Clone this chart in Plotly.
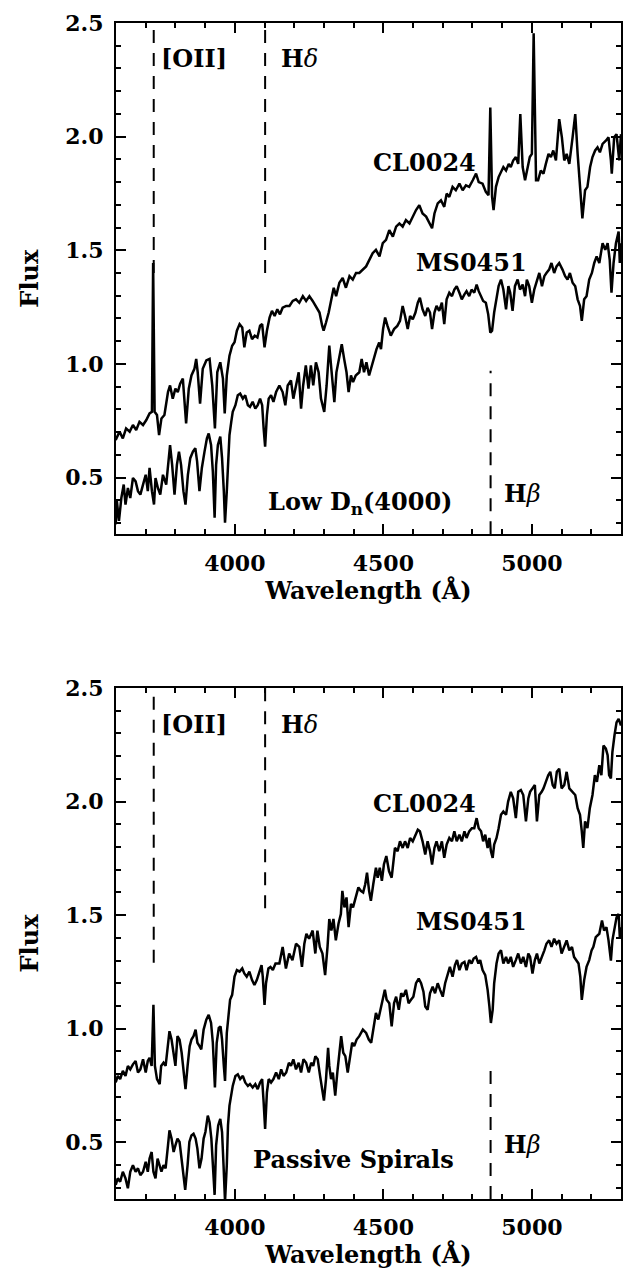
import plotly.graph_objects as go

# ---------------- data ----------------
WL_P1_CL = [
    3599, 3612, 3623, 3634, 3646, 3657, 3668, 3679, 3691, 3702,
    3713, 3721, 3725, 3730, 3738, 3745, 3753, 3763, 3775, 3782,
    3791, 3800, 3808, 3816, 3825, 3836, 3845, 3854, 3864, 3870,
    3875, 3883, 3892, 3904, 3915, 3924, 3933, 3941, 3951, 3960,
    3966, 3973, 3982, 3991, 3999, 4007, 4016, 4025, 4032, 4040,
    4049, 4058, 4067, 4076, 4085, 4092, 4100, 4108, 4117, 4125,
    4134, 4143, 4152, 4161, 4173, 4184, 4195, 4206, 4217, 4229,
    4240, 4251, 4262, 4273, 4285, 4294, 4299, 4307, 4316, 4325,
    4333, 4341, 4352, 4363, 4374, 4386, 4397, 4408, 4419, 4442,
    4464, 4475, 4487, 4498, 4509, 4520, 4532, 4543, 4554, 4565,
    4576, 4588, 4599, 4610, 4621, 4632, 4644, 4655, 4664, 4672,
    4683, 4694, 4705, 4713, 4722, 4733, 4744, 4756, 4767, 4778,
    4789, 4801, 4812, 4821, 4834, 4845, 4854, 4860, 4866, 4871,
    4879, 4888, 4896, 4904, 4913, 4922, 4929, 4937, 4946, 4954,
    4961, 4969, 4977, 4986, 4993, 5000, 5006, 5014, 5021, 5030,
    5039, 5047, 5056, 5064, 5072, 5081, 5092, 5101, 5109, 5117,
    5126, 5137, 5146, 5154, 5159, 5165, 5170, 5179, 5187, 5196,
    5204, 5213, 5221, 5229, 5238, 5249, 5258, 5266, 5269, 5277,
    5285, 5294, 5300]
FX_P1_CL = [
    0.665, 0.702, 0.672, 0.716, 0.702, 0.731, 0.709, 0.745, 0.731, 0.753,
    0.782, 0.789, 1.444, 0.789, 0.775, 0.687, 0.760, 0.775, 0.876, 0.905,
    0.847, 0.891, 0.876, 0.913, 0.935, 0.738, 0.891, 0.949, 0.978, 1.022,
    0.964, 0.825, 0.978, 1.015, 1.022, 0.905, 0.716, 0.964, 1.007, 0.935,
    0.782, 0.949, 1.036, 1.080, 1.095, 1.146, 1.175, 1.160, 1.073, 1.138,
    1.146, 1.109, 1.124, 1.116, 1.168, 1.175, 1.073, 1.146, 1.204, 1.233,
    1.211, 1.240, 1.218, 1.247, 1.255, 1.255, 1.277, 1.284, 1.269, 1.298,
    1.277, 1.298, 1.277, 1.255, 1.226, 1.168, 1.146, 1.182, 1.226, 1.284,
    1.335, 1.298, 1.357, 1.378, 1.335, 1.386, 1.371, 1.400, 1.400, 1.429,
    1.487, 1.502, 1.473, 1.531, 1.546, 1.589, 1.560, 1.604, 1.618, 1.604,
    1.633, 1.618, 1.648, 1.677, 1.698, 1.662, 1.648, 1.618, 1.597, 1.662,
    1.706, 1.720, 1.691, 1.749, 1.735, 1.779, 1.764, 1.793, 1.764, 1.786,
    1.779, 1.808, 1.837, 1.800, 1.793, 1.757, 1.742, 2.128, 1.735, 1.677,
    1.779, 1.822, 1.844, 1.866, 1.851, 1.880, 1.866, 1.895, 1.910, 1.880,
    2.099, 1.866, 1.808, 1.866, 1.910, 1.924, 2.455, 1.808, 1.808, 1.851,
    1.837, 1.880, 1.924, 1.910, 1.939, 1.895, 2.077, 1.997, 1.895, 1.924,
    1.880, 1.997, 2.099, 1.924, 1.837, 1.735, 1.640, 1.764, 1.779, 1.866,
    1.910, 1.939, 1.953, 1.931, 1.968, 1.982, 1.997, 1.895, 1.837, 1.997,
    2.011, 1.895, 2.011]

WL_P1_MS = [
    3599, 3603, 3610, 3618, 3626, 3632, 3640, 3648, 3657, 3666,
    3674, 3682, 3691, 3700, 3707, 3713, 3721, 3728, 3733, 3741,
    3749, 3758, 3769, 3777, 3782, 3789, 3797, 3805, 3812, 3819,
    3827, 3834, 3842, 3850, 3859, 3867, 3873, 3881, 3889, 3898,
    3906, 3912, 3920, 3926, 3932, 3937, 3943, 3951, 3957, 3963,
    3967, 3973, 3977, 3982, 3988, 3993, 4002, 4010, 4018, 4027,
    4035, 4044, 4051, 4060, 4069, 4077, 4085, 4092, 4097, 4102,
    4108, 4114, 4122, 4130, 4139, 4150, 4161, 4170, 4178, 4189,
    4197, 4206, 4215, 4223, 4230, 4239, 4248, 4256, 4264, 4273,
    4282, 4290, 4301, 4309, 4318, 4326, 4335, 4342, 4351, 4360,
    4368, 4376, 4383, 4391, 4398, 4407, 4419, 4427, 4435, 4443,
    4452, 4461, 4469, 4477, 4486, 4492, 4499, 4506, 4514, 4525,
    4536, 4547, 4556, 4565, 4573, 4582, 4590,
    4599, 4608, 4616, 4623, 4632, 4641, 4649, 4657, 4664, 4672,
    4679, 4688, 4697, 4705, 4713, 4722, 4731, 4739, 4747, 4756,
    4764, 4773, 4780, 4789, 4797, 4806, 4814, 4821, 4829, 4836,
    4845, 4853, 4860, 4866, 4873, 4881, 4888, 4896, 4904, 4913,
    4921, 4927, 4935, 4943, 4952, 4960, 4969, 4977, 4983, 4991,
    5000, 5008, 5016, 5025, 5034, 5042, 5049, 5058, 5066, 5075,
    5083, 5092, 5103, 5112, 5120, 5128, 5137, 5146, 5154, 5162,
    5168, 5176, 5184, 5193, 5202, 5210, 5218, 5227, 5238, 5247,
    5255, 5262, 5268, 5275, 5283, 5288, 5292, 5296, 5300]
FX_P1_MS = [
    0.294, 0.396, 0.309, 0.410, 0.469, 0.381, 0.454, 0.410, 0.498, 0.483,
    0.440, 0.425, 0.469, 0.512, 0.440, 0.542, 0.440, 0.381, 0.498, 0.454,
    0.425, 0.512, 0.469, 0.571, 0.643, 0.556, 0.425, 0.556, 0.614, 0.556,
    0.440, 0.381, 0.512, 0.585, 0.614, 0.629, 0.571, 0.440, 0.542, 0.614,
    0.672, 0.694, 0.643, 0.527, 0.323, 0.556, 0.643, 0.680, 0.585, 0.440,
    0.301, 0.440, 0.585, 0.687, 0.745, 0.789, 0.818, 0.862, 0.869, 0.847,
    0.862, 0.818, 0.811, 0.833, 0.803, 0.818, 0.847, 0.818, 0.716, 0.636,
    0.774, 0.847, 0.862, 0.833, 0.876, 0.905, 0.876, 0.818, 0.905, 0.927,
    0.847, 0.905, 0.963, 0.803, 0.905, 0.993, 0.891, 0.993, 0.905, 1.007,
    0.963, 0.847, 0.789, 0.905, 1.080, 0.963, 0.832, 0.963, 1.022, 1.087,
    1.022, 0.963, 0.876, 0.949, 0.920, 0.949, 0.963, 1.022, 0.963, 1.007,
    0.949, 0.993, 1.036, 1.065, 1.094, 1.065, 1.153, 1.204, 1.167, 1.124,
    1.153, 1.167, 1.189, 1.255, 1.211, 1.153, 1.211,
    1.196, 1.226, 1.269, 1.291, 1.240, 1.211, 1.247, 1.226, 1.153, 1.226,
    1.255, 1.233, 1.269, 1.175, 1.284, 1.313, 1.298, 1.327, 1.342, 1.313,
    1.284, 1.306, 1.320, 1.298, 1.327, 1.313, 1.349, 1.320, 1.298, 1.277,
    1.269, 1.218, 1.138, 1.146, 1.226, 1.284, 1.342, 1.371, 1.327, 1.240,
    1.342, 1.313, 1.233, 1.342, 1.371, 1.327, 1.349, 1.298, 1.371, 1.342,
    1.269, 1.327, 1.357, 1.400, 1.342, 1.386, 1.400, 1.415, 1.444, 1.400,
    1.429, 1.444, 1.415, 1.386, 1.371, 1.400, 1.357, 1.342, 1.284, 1.255,
    1.189, 1.284, 1.298, 1.371, 1.400, 1.444, 1.473, 1.444, 1.531, 1.502,
    1.531, 1.458, 1.313, 1.444, 1.531, 1.560, 1.582, 1.444, 1.531]

WL_P2_CL = [
    3599, 3606, 3614, 3623, 3632, 3640, 3648, 3657, 3666, 3674,
    3682, 3691, 3700, 3707, 3713, 3720, 3726, 3731, 3738, 3747,
    3752, 3760, 3767, 3775, 3780, 3787, 3794, 3800, 3807, 3814,
    3821, 3827, 3834, 3841, 3848, 3854, 3861, 3868, 3874, 3881,
    3887, 3895, 3904, 3912, 3920, 3926, 3933, 3939, 3946, 3952,
    3957, 3963, 3967, 3973, 3979, 3984, 3991, 3999, 4007, 4016,
    4025, 4032, 4040, 4049, 4058, 4066, 4074, 4083, 4090, 4094,
    4100, 4105, 4113, 4120, 4128, 4137, 4150, 4161, 4172, 4183,
    4194, 4206, 4217, 4226, 4234, 4241, 4250, 4262, 4271, 4278,
    4286, 4295, 4304, 4312, 4318, 4325, 4332, 4340, 4349, 4357,
    4362, 4369, 4376, 4383, 4391, 4398, 4407, 4416, 4424, 4432,
    4439, 4445, 4452, 4458, 4466, 4475, 4481, 4488, 4495, 4502,
    4510, 4519, 4528, 4539, 4548, 4556, 4565,
    4573, 4582, 4590, 4599, 4608, 4616, 4623, 4632, 4641, 4649,
    4657, 4664, 4672, 4679, 4688, 4697, 4705, 4713, 4722, 4731,
    4739, 4747, 4756, 4764, 4773, 4780, 4789, 4798, 4806, 4814,
    4821, 4829, 4836, 4843, 4851, 4857, 4862, 4868, 4873, 4881,
    4888, 4896, 4904, 4913, 4920, 4929, 4937, 4946, 4954, 4963,
    4971, 4980, 4988, 4994, 5002, 5010, 5017, 5025, 5033, 5039,
    5047, 5055, 5062, 5070, 5077, 5084, 5092, 5100, 5109, 5117,
    5126, 5137, 5146, 5154, 5162, 5168, 5173, 5179, 5187, 5195,
    5204, 5212, 5219, 5227, 5234, 5241, 5249, 5255, 5260, 5266,
    5271, 5278, 5285, 5292, 5300]
FX_P2_CL = [
    0.763, 0.792, 0.778, 0.814, 0.792, 0.836, 0.821, 0.843, 0.858, 0.807,
    0.821, 0.865, 0.807, 0.858, 0.872, 0.836, 1.105, 0.836, 0.778, 0.756,
    0.836, 0.850, 0.836, 0.952, 0.989, 0.952, 0.894, 0.836, 0.967, 0.952,
    0.894, 0.807, 0.734, 0.836, 0.923, 0.952, 0.967, 0.996, 0.938, 0.923,
    0.909, 0.996, 1.040, 1.061, 1.025, 0.938, 0.741, 0.938, 1.003, 1.010,
    0.952, 0.836, 0.770, 0.981, 1.069, 1.127, 1.149, 1.229, 1.258, 1.251,
    1.265, 1.243, 1.229, 1.251, 1.214, 1.192, 1.214, 1.258, 1.280, 1.229,
    1.105, 1.200, 1.265, 1.272, 1.258, 1.287, 1.287, 1.360, 1.265, 1.331,
    1.301, 1.374, 1.360, 1.272, 1.374, 1.418, 1.396, 1.432, 1.331, 1.432,
    1.360, 1.331, 1.236, 1.360, 1.483, 1.432, 1.483, 1.389, 1.462, 1.505,
    1.607, 1.534, 1.578, 1.447, 1.549, 1.534, 1.578, 1.622, 1.607, 1.600,
    1.636, 1.687, 1.607, 1.563, 1.636, 1.709, 1.665, 1.709, 1.651, 1.724,
    1.760, 1.694, 1.665, 1.796, 1.782, 1.825, 1.796,
    1.825, 1.796, 1.840, 1.825, 1.854, 1.876, 1.869, 1.825, 1.767, 1.825,
    1.782, 1.723, 1.796, 1.825, 1.782, 1.825, 1.752, 1.811, 1.840, 1.825,
    1.869, 1.825, 1.854, 1.825, 1.869, 1.840, 1.869, 1.883, 1.883, 1.927,
    1.883, 1.869, 1.825, 1.854, 1.796, 1.840, 1.782, 1.752, 1.811, 1.840,
    1.883, 1.942, 1.956, 1.942, 2.000, 2.043, 2.014, 1.927, 2.043, 2.051,
    2.029, 1.913, 2.014, 2.043, 2.058, 2.073, 1.913, 2.029, 2.043, 2.058,
    2.087, 2.116, 2.131, 2.073, 2.058, 2.131, 2.145, 2.058, 2.073, 2.131,
    2.058, 2.043, 2.029, 1.971, 1.942, 1.869, 1.796, 1.913, 1.883, 1.971,
    2.029, 2.116, 2.087, 2.160, 2.116, 2.247, 2.233, 2.204, 2.116, 2.102,
    2.218, 2.291, 2.349, 2.364, 2.335]

WL_P2_MS = [
    3599, 3606, 3614, 3623, 3632, 3640, 3648, 3657, 3666, 3674,
    3682, 3691, 3700, 3707, 3713, 3720, 3726, 3733, 3740, 3747,
    3753, 3760, 3767, 3775, 3780, 3787, 3794, 3800, 3807, 3814,
    3821, 3827, 3833, 3841, 3847, 3854, 3861, 3868, 3874, 3881,
    3888, 3895, 3901, 3909, 3915, 3921, 3926, 3932, 3937, 3944,
    3951, 3957, 3962, 3967, 3973, 3977, 3982, 3988, 3993, 4002,
    4010, 4018, 4027, 4035, 4044, 4051, 4060, 4069, 4077, 4085,
    4092, 4097, 4102, 4108, 4114, 4122, 4130, 4139, 4148, 4156,
    4164, 4173, 4182, 4189, 4197, 4206, 4215, 4223, 4231, 4240,
    4249, 4257, 4264, 4271, 4279, 4287, 4294, 4300, 4307, 4314,
    4318, 4324, 4330, 4338, 4345, 4352, 4358, 4365, 4372, 4380,
    4386, 4395, 4402, 4410, 4419, 4431, 4442, 4451, 4459, 4467,
    4475, 4483, 4490, 4498, 4505, 4511, 4520, 4528, 4536, 4543,
    4552, 4560, 4567, 4576, 4585, 4593, 4601, 4610, 4619, 4627,
    4635, 4641, 4649, 4657, 4666, 4674, 4683, 4691, 4700, 4708,
    4716, 4724, 4733, 4741, 4748, 4756, 4764, 4773, 4780, 4789,
    4797, 4804, 4812, 4820, 4826, 4834, 4843, 4851, 4857, 4862,
    4868, 4873, 4881, 4888, 4896, 4904, 4913, 4920, 4929, 4937,
    4946, 4954, 4963, 4971, 4980, 4988, 4994, 5002, 5010, 5017,
    5025, 5034, 5042, 5049, 5058, 5066, 5075, 5083, 5092, 5100,
    5109, 5117, 5126, 5135, 5142, 5150, 5157, 5163, 5168, 5176,
    5184, 5193, 5201, 5207, 5215, 5227, 5236, 5243, 5251, 5258,
    5266, 5271, 5278, 5285, 5292, 5296, 5300]
FX_P2_MS = [
    0.312, 0.341, 0.326, 0.370, 0.341, 0.297, 0.370, 0.399, 0.370, 0.385,
    0.355, 0.370, 0.414, 0.370, 0.428, 0.457, 0.370, 0.341, 0.428, 0.399,
    0.370, 0.399, 0.385, 0.486, 0.552, 0.516, 0.457, 0.486, 0.516, 0.501,
    0.428, 0.341, 0.290, 0.399, 0.501, 0.530, 0.537, 0.516, 0.472, 0.385,
    0.428, 0.516, 0.545, 0.617, 0.588, 0.516, 0.399, 0.268, 0.486, 0.574,
    0.603, 0.545, 0.399, 0.239, 0.399, 0.574, 0.661, 0.719, 0.748, 0.792,
    0.799, 0.778, 0.792, 0.763, 0.748, 0.756, 0.741, 0.756, 0.734, 0.763,
    0.778, 0.676, 0.559, 0.719, 0.778, 0.763, 0.778, 0.807, 0.778, 0.821,
    0.792, 0.807, 0.850, 0.836, 0.865, 0.821, 0.850, 0.807, 0.865, 0.850,
    0.807, 0.850, 0.836, 0.879, 0.865, 0.792, 0.719, 0.683, 0.778, 0.916,
    0.836, 0.778, 0.807, 0.705, 0.807, 0.909, 0.967, 0.894, 0.879, 0.807,
    0.865, 0.938, 0.923, 0.952, 0.967, 0.996, 0.981, 0.952, 0.938, 0.996,
    1.069, 1.040, 1.083, 1.127, 1.171, 1.127, 1.112, 1.010, 1.112, 1.141,
    1.083, 1.156, 1.141, 1.171, 1.112, 1.127, 1.141, 1.200, 1.221, 1.200,
    1.163, 1.098, 1.083, 1.156, 1.185, 1.156, 1.200, 1.171, 1.141, 1.200,
    1.243, 1.272, 1.229, 1.280, 1.302, 1.258, 1.287, 1.294, 1.258, 1.302,
    1.287, 1.309, 1.316, 1.287, 1.302, 1.258, 1.236, 1.171, 1.098, 1.025,
    1.083, 1.200, 1.287, 1.331, 1.345, 1.287, 1.316, 1.287, 1.316, 1.272,
    1.302, 1.331, 1.287, 1.316, 1.272, 1.331, 1.316, 1.243, 1.302, 1.331,
    1.287, 1.316, 1.345, 1.374, 1.389, 1.360, 1.396, 1.374, 1.389, 1.331,
    1.360, 1.389, 1.345, 1.360, 1.316, 1.302, 1.287, 1.229, 1.127, 1.214,
    1.272, 1.302, 1.345, 1.360, 1.403, 1.418, 1.476, 1.432, 1.447, 1.389,
    1.300, 1.389, 1.447, 1.490, 1.505, 1.403, 1.447]

# spectral feature markers: wavelength, [y-from, y-to] per panel
LINE_WL = [3727, 4102, 4861]
LINE_Y_P1 = [(1.40, 2.50), (1.40, 2.50), (0.25, 0.97)]
LINE_Y_P2 = [(1.29, 2.50), (1.53, 2.50), (0.25, 0.84)]

X_RANGE = [3600, 5300]
Y_RANGE = [0.25, 2.5]

# ---------------- figure ----------------
FONT = "DejaVu Serif"
INK = "black"

fig = go.Figure()
series = [(WL_P1_CL, FX_P1_CL, "x", "y"), (WL_P1_MS, FX_P1_MS, "x", "y"),
          (WL_P2_CL, FX_P2_CL, "x2", "y2"), (WL_P2_MS, FX_P2_MS, "x2", "y2")]
for wl, fx, xa, ya in series:
    assert len(wl) == len(fx), (len(wl), len(fx))
    fig.add_trace(go.Scatter(x=wl, y=fx, mode="lines", xaxis=xa, yaxis=ya,
                             line=dict(color=INK, width=2.5), showlegend=False,
                             hoverinfo="skip"))

for ys, xr, yr in [(LINE_Y_P1, "x", "y"), (LINE_Y_P2, "x2", "y2")]:
    for wl, (y0, y1) in zip(LINE_WL, ys):
        fig.add_shape(type="line", xref=xr, yref=yr, x0=wl, x1=wl, y0=y0, y1=y1,
                      line=dict(color=INK, width=2, dash="13px,10px"))

def ann(text, x, y, xr, yr, bold=True):
    fig.add_annotation(text=text, x=x, y=y, xref=xr, yref=yr, showarrow=False,
                       xanchor="left", yanchor="middle",
                       font=dict(family=FONT, size=24, color=INK,
                                 weight="bold" if bold else "normal"))

for xr, yr, p in [("x", "y", 1), ("x2", "y2", 2)]:
    ann("[OII]", 3745, 2.345 if p == 1 else 2.339, xr, yr)
    ann("<b>H</b><i>δ</i>", 4150, 2.345 if p == 1 else 2.339, xr, yr, bold=False)
    ann("CL0024", 4457, 1.886 if p == 1 else 1.99, xr, yr)
    ann("MS0451", 4603, 1.445 if p == 1 else 1.47, xr, yr)
    ann("<b>H</b><i>β</i>", 4900, 0.43 if p == 1 else 0.49, xr, yr, bold=False)
ann("Low D<sub>n</sub>(4000)", 4106, 0.39, "x", "y")
ann("Passive Spirals", 4054, 0.425, "x2", "y2")

tickfont = dict(family=FONT, size=22, color=INK, weight="bold")
titlefont = dict(family=FONT, size=24, color=INK, weight="bold")

def xaxis(anchor):
    return dict(range=X_RANGE, anchor=anchor, domain=[0, 1],
                showline=True, linecolor=INK, linewidth=2, mirror="ticks",
                ticks="inside", ticklen=10, tickwidth=2, tickcolor=INK,
                tick0=4000, dtick=500, tickfont=tickfont, ticklabelstandoff=8,
                minor=dict(ticks="inside", ticklen=5, tickwidth=2,
                           tickcolor=INK, dtick=100, tick0=3600, showgrid=False),
                showgrid=False, zeroline=False,
                title=dict(text="Wavelength (Å)", font=titlefont, standoff=5))

def yaxis(anchor, domain):
    return dict(range=Y_RANGE, anchor=anchor, domain=domain,
                showline=True, linecolor=INK, linewidth=2, mirror="ticks",
                ticks="inside", ticklen=10, tickwidth=2, tickcolor=INK,
                tick0=0.5, dtick=0.5, tickformat=".1f", tickfont=tickfont,
                ticklabelstandoff=6,
                minor=dict(ticks="inside", ticklen=5, tickwidth=2,
                           tickcolor=INK, dtick=0.1, showgrid=False),
                showgrid=False, zeroline=False,
                title=dict(text="Flux", font=titlefont, standoff=20))

fig.update_layout(
    width=633, height=1279,
    margin=dict(l=116, r=11, t=10, b=80),
    paper_bgcolor="white", plot_bgcolor="white",
    xaxis=xaxis("y"), yaxis=yaxis("x", [0.5652, 1.0]),
    xaxis2=xaxis("y2"), yaxis2=yaxis("x2", [0.0, 0.4345]),
    showlegend=False,
)

fig.write_html("out.html")
